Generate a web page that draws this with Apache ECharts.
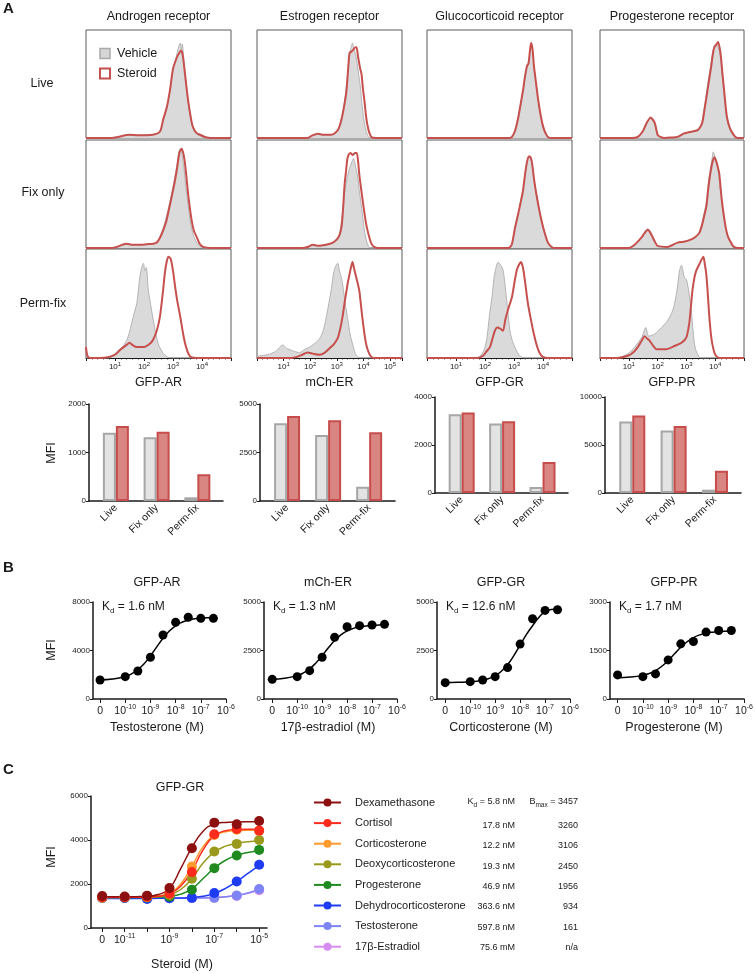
<!DOCTYPE html>
<html><head><meta charset="utf-8">
<script src="https://cdn.jsdelivr.net/npm/echarts@6/dist/echarts.min.js"></script>
<style>html,body{margin:0;padding:0;background:#fff}#c{width:755px;height:974px}</style>
</head><body><div id="c"></div>
<script>
// ================= DATA =================
// Panel A histograms: [log10 fluorescence, % of mode]
const arLiveVeh = [[0,0],[0.9,0],[1.1,1],[1.5,3],[1.8,2.5],[2.3,3],[2.55,6],[2.66,16],[2.79,28],[2.9,44],[3.0,63],[3.12,76],[3.2,85],[3.25,88],[3.29,82],[3.32,87],[3.38,70],[3.45,52],[3.52,33],[3.62,16],[3.69,9],[3.8,4],[3.93,2],[4.1,0.5],[4.3,0],[5,0]];
const arLiveSte = [[0,0],[0.9,0],[1.1,1],[1.5,3],[1.8,2.5],[2.3,3],[2.55,6],[2.66,17],[2.79,29],[2.9,45],[3.0,64],[3.14,75],[3.22,79],[3.28,81],[3.34,76],[3.41,60],[3.52,35],[3.62,18],[3.69,10],[3.8,5],[3.93,3],[4.1,1],[4.3,0],[5,0]];
const arFixVeh = [[0,0],[0.9,0],[1.06,1],[1.25,3],[1.4,4],[1.6,3],[1.86,3],[2.1,3.5],[2.32,4],[2.44,5],[2.56,11],[2.67,19],[2.78,30],[2.95,50],[3.05,64],[3.13,76],[3.2,89],[3.25,92],[3.31,86],[3.37,76],[3.43,60],[3.5,44],[3.6,24],[3.7,12],[3.8,6],[3.92,2],[4.1,0],[5,0]];
const arFixSte = [[0,0],[0.9,0],[1.06,1],[1.25,3],[1.4,4],[1.6,3],[1.86,3],[2.1,3.5],[2.32,4],[2.44,5],[2.56,10],[2.67,17],[2.78,26],[2.95,47],[3.05,60],[3.13,72],[3.22,88],[3.3,92],[3.36,87],[3.41,79],[3.47,64],[3.53,48],[3.64,26],[3.72,16],[3.82,10],[3.92,4],[4.04,1],[4.3,0],[5,0]];
const arPermVeh = [[0,0],[0.8,0],[0.95,2],[1.07,6],[1.25,10],[1.4,16],[1.5,24],[1.63,38],[1.75,50],[1.86,75],[1.93,84],[1.98,87],[2.03,80],[2.08,83],[2.15,62],[2.26,44],[2.38,26],[2.49,13],[2.6,7],[2.67,4],[2.8,1],[2.95,0],[5,0]];
const arPermSte = [[0,10],[0.05,2],[0.15,0],[0.7,0.5],[1.0,3],[1.2,8],[1.4,12],[1.5,14],[1.6,12],[1.75,10],[2.0,10],[2.2,13],[2.32,17],[2.45,26],[2.55,38],[2.65,60],[2.72,78],[2.78,88],[2.84,93],[2.92,91],[3.0,80],[3.08,64],[3.15,52],[3.25,38],[3.35,22],[3.45,10],[3.55,3],[3.65,0.5],[3.8,0],[5,0]];

const erLiveVeh = [[0,0],[1.9,0],[2.05,2],[2.28,4],[2.5,3],[2.8,3],[3.03,7],[3.12,13],[3.21,22],[3.3,36],[3.38,52],[3.45,70],[3.52,82],[3.59,88],[3.64,82],[3.7,78],[3.78,66],[3.88,48],[3.96,28],[4.05,12],[4.15,3],[4.25,0],[5.45,0]];
const erLiveSte = [[0,0],[1.9,0],[2.05,2],[2.28,4],[2.5,3],[2.8,3],[3.03,7],[3.12,12],[3.21,21],[3.3,33],[3.36,43],[3.42,62],[3.48,79],[3.55,80],[3.63,82],[3.7,84],[3.74,84],[3.8,75],[3.88,64],[3.93,59],[3.98,46],[4.04,34],[4.1,20],[4.15,12],[4.22,5],[4.3,1],[4.45,0],[5.45,0]];
const erFixVeh = [[0,0],[1.7,0],[1.9,1],[2.1,3],[2.3,2],[2.6,3],[2.85,5],[3.0,8],[3.1,13],[3.2,30],[3.29,50],[3.38,64],[3.48,74],[3.57,80],[3.63,83],[3.7,76],[3.78,67],[3.85,52],[3.96,32],[4.05,14],[4.15,4],[4.25,0],[5.45,0]];
const erFixSte = [[0,0],[1.7,0],[1.9,1],[2.1,3],[2.3,2],[2.6,3],[2.85,5],[3.0,8],[3.1,12],[3.18,20],[3.24,38],[3.29,58],[3.35,72],[3.4,83],[3.46,87],[3.52,88],[3.6,86],[3.68,88],[3.75,88],[3.8,80],[3.85,67],[3.95,48],[4.04,32],[4.12,20],[4.22,10],[4.3,4],[4.4,1],[4.55,0],[5.45,0]];
const erPermVeh = [[0,1],[0.1,2],[0.4,3],[0.7,6],[0.97,12],[1.1,9],[1.2,8],[1.4,6],[1.6,5],[1.8,8],[1.98,10],[2.2,14],[2.36,18],[2.5,26],[2.6,37],[2.7,50],[2.8,64],[2.88,78],[2.95,84],[3.03,87],[3.1,80],[3.18,73],[3.24,64],[3.29,55],[3.35,45],[3.4,37],[3.5,22],[3.6,12],[3.7,4],[3.78,1],[3.9,0],[5.45,0]];
const erPermSte = [[0,0],[1.3,0],[1.5,1],[1.7,3],[1.9,5],[2.1,4],[2.36,3],[2.55,5],[2.73,9],[2.9,13],[3.03,18],[3.12,26],[3.21,37],[3.3,52],[3.36,61],[3.42,70],[3.48,77],[3.54,84],[3.59,88],[3.65,82],[3.74,73],[3.8,67],[3.85,61],[3.9,50],[3.96,37],[4.04,22],[4.11,12],[4.2,5],[4.3,1],[4.45,0],[5.45,0]];

const grLiveVeh = [[0,0],[2.85,0],[2.93,1],[3.04,8],[3.14,19],[3.22,30],[3.31,44],[3.38,56],[3.45,66],[3.5,68],[3.55,80],[3.59,88],[3.63,84],[3.69,66],[3.76,50],[3.83,35],[3.92,20],[4.0,10],[4.08,4],[4.17,1],[4.3,0],[5,0]];
const grLiveSte = [[0,0],[2.85,0],[2.93,1],[3.04,7],[3.14,18],[3.22,30],[3.31,44],[3.38,57],[3.45,67],[3.5,69],[3.55,81],[3.59,88],[3.64,82],[3.69,66],[3.76,51],[3.83,36],[3.92,21],[4.0,11],[4.08,5],[4.17,1],[4.3,0],[5,0]];
const grFixVeh = [[0,0],[2.8,0],[2.92,3],[3.03,19],[3.14,32],[3.22,42],[3.31,54],[3.38,68],[3.45,79],[3.52,85],[3.57,82],[3.62,79],[3.7,62],[3.79,47],[3.88,34],[3.97,23],[4.07,12],[4.17,5],[4.3,0],[5,0]];
const grFixSte = [[0,0],[2.8,0],[2.92,3],[3.03,18],[3.14,31],[3.22,41],[3.31,53],[3.38,68],[3.45,80],[3.52,85],[3.57,84],[3.62,79],[3.7,62],[3.79,47],[3.88,34],[3.97,23],[4.07,13],[4.17,5],[4.3,1],[4.4,0],[5,0]];
const grPermVeh = [[0,0],[1.7,0],[1.9,4],[2.0,10],[2.07,19],[2.15,38],[2.24,56],[2.32,75],[2.38,83],[2.45,88],[2.52,86],[2.62,81],[2.7,65],[2.76,50],[2.86,25],[2.95,15],[3.03,10],[3.12,5],[3.2,2],[3.35,0],[5,0]];
const grPermSte = [[0,0],[1.75,0],[1.93,2],[2.05,6],[2.17,10],[2.26,18],[2.34,25],[2.42,28],[2.52,27],[2.62,25],[2.7,35],[2.79,44],[2.93,56],[3.02,70],[3.1,81],[3.18,86],[3.24,88],[3.3,84],[3.34,78],[3.41,64],[3.48,50],[3.57,37],[3.66,25],[3.75,15],[3.83,8],[3.92,3],[4.0,1],[4.15,0],[5,0]];

const prLiveVeh = [[0,0],[1.1,0],[1.31,1],[1.48,6],[1.62,14],[1.76,18],[1.9,13],[2.0,3],[2.1,1],[2.24,0],[2.5,0.5],[2.69,1],[2.9,4],[3.03,5],[3.2,6],[3.38,8],[3.48,11],[3.55,16],[3.65,33],[3.72,46],[3.8,60],[3.86,70],[3.92,80],[3.97,86],[4.03,87],[4.08,85],[4.15,80],[4.2,70],[4.25,56],[4.31,40],[4.36,27],[4.41,17],[4.5,8],[4.59,3],[4.7,1],[4.8,0],[5,0]];
const prLiveSte = [[0,0],[1.1,0],[1.31,1],[1.48,6],[1.62,14],[1.76,19],[1.9,14],[2.0,3],[2.1,1],[2.24,0],[2.5,0.5],[2.69,1],[2.9,4],[3.03,5],[3.2,6],[3.38,7],[3.48,10],[3.55,14],[3.65,30],[3.72,42],[3.8,56],[3.86,66],[3.92,78],[3.97,84],[4.03,86],[4.1,89],[4.15,84],[4.2,75],[4.25,60],[4.31,44],[4.36,30],[4.41,19],[4.5,10],[4.59,5],[4.7,1],[4.8,0],[5,0]];
const prFixVeh = [[0,0],[1.0,0],[1.2,3],[1.45,10],[1.58,16],[1.66,18],[1.75,15],[1.83,10],[1.92,5],[2.0,2],[2.34,1],[2.69,5],[2.95,6],[3.17,8],[3.3,10],[3.45,15],[3.55,24],[3.62,33],[3.69,42],[3.76,60],[3.83,73],[3.9,84],[3.93,89],[3.99,85],[4.05,79],[4.1,72],[4.15,62],[4.2,48],[4.26,35],[4.33,22],[4.42,12],[4.52,5],[4.62,1],[4.8,0],[5,0]];
const prFixSte = [[0,0],[1.0,0],[1.2,3],[1.45,10],[1.58,15],[1.66,17],[1.75,14],[1.83,10],[1.92,5],[2.0,2],[2.34,1],[2.69,5],[2.95,6],[3.17,8],[3.3,10],[3.45,14],[3.55,22],[3.62,30],[3.69,38],[3.76,55],[3.83,69],[3.9,79],[3.97,84],[4.04,80],[4.1,74],[4.14,69],[4.19,55],[4.24,42],[4.3,30],[4.38,17],[4.45,10],[4.55,5],[4.65,1],[4.8,0],[5,0]];
const prPermVeh = [[0,0],[0.6,0],[0.97,4],[1.2,10],[1.45,19],[1.59,28],[1.69,20],[1.9,22],[2.14,28],[2.34,34],[2.5,42],[2.59,50],[2.68,63],[2.76,80],[2.83,85],[2.88,80],[2.93,74],[3.0,72],[3.03,69],[3.1,58],[3.17,44],[3.22,28],[3.28,13],[3.33,7],[3.38,4],[3.5,0],[5,0]];
const prPermSte = [[0,0],[0.6,0],[0.97,2],[1.15,5],[1.31,10],[1.45,16],[1.55,20],[1.63,18],[1.72,16],[1.85,11],[1.97,8],[2.3,8],[2.59,11],[2.83,14],[3.0,19],[3.1,32],[3.16,48],[3.21,62],[3.28,74],[3.34,80],[3.45,86],[3.52,90],[3.59,93],[3.64,86],[3.69,77],[3.74,60],[3.79,40],[3.85,22],[3.9,13],[3.97,5],[4.03,2],[4.15,0],[5,0]];

const receptorTitles = ['Androgen receptor', 'Estrogen receptor', 'Glucocorticoid receptor', 'Progesterone receptor'];
const constructNames = ['GFP-AR', 'mCh-ER', 'GFP-GR', 'GFP-PR'];
const conditionNames = ['Live', 'Fix only', 'Perm-fix'];

// Panel A bar charts (MFI)
const barCategories = ['Live', 'Fix only', 'Perm-fix'];
const mfiVehAR = [1408, 1313, 76];   const mfiSteAR = [1546, 1429, 550];
const mfiVehER = [4005, 3402, 737];  const mfiSteER = [4381, 4160, 3541];
const mfiVehGR = [3281, 2895, 248];  const mfiSteGR = [3350, 2990, 1295];
const mfiVehPR = [7446, 6515, 345];  const mfiStePR = [8066, 6990, 2306];
const barMax = [2000, 5000, 4000, 10000];
const barInterval = [1000, 2500, 2000, 5000];

// Panel B: log10 dose (0 plotted at -11)
const doseB = [-11, -10, -9.5, -9, -8.5, -8, -7.5, -7, -6.5];
const mfiAR = [1567, 1840, 2310, 3440, 5280, 6325, 6740, 6655, 6655];
const mfiER = [1015, 1150, 1460, 2150, 3180, 3727, 3780, 3815, 3850];
const mfiGR = [843, 895, 982, 1153, 1619, 2829, 4137, 4566, 4602];
const mfiPR = [745, 692, 776, 1210, 1706, 1778, 2069, 2119, 2119];
const fitDoseB = [-11, -10.5, -10, -9.75, -9.5, -9.25, -9, -8.75, -8.5, -8.25, -8, -7.75, -7.5, -7.25, -7, -6.75, -6.5];
const fitAR = [1583, 1652, 1859, 2075, 2415, 2911, 3562, 4300, 5014, 5606, 6040, 6325, 6502, 6610, 6669, 6705, 6724];
const fitER = [1022, 1068, 1204, 1343, 1558, 1860, 2237, 2641, 3011, 3303, 3507, 3639, 3719, 3765, 3794, 3810, 3818];
const fitGR = [851, 860, 888, 910, 968, 1055, 1200, 1432, 1775, 2235, 2775, 3315, 3775, 4200, 4500, 4610, 4640];
const fitPR = [659, 677, 731, 788, 879, 1013, 1191, 1397, 1600, 1771, 1898, 1983, 2036, 2068, 2086, 2097, 2102];
const ligandNamesB = ['Testosterone (M)', '17β-estradiol (M)', 'Corticosterone (M)', 'Progesterone (M)'];
const kdB = ['1.6', '1.3', '12.6', '1.7'];
const yMaxB = [8000, 5000, 5000, 3000];
const yIntB = [4000, 2500, 2500, 1500];

// Panel C: log10 dose (0 plotted at -12)
const doseC = [-12, -11, -10, -9, -8, -7, -6, -5];
const steroidNames = ['Dexamethasone', 'Cortisol', 'Corticosterone', 'Deoxycorticosterone', 'Progesterone', 'Dehydrocorticosterone', 'Testosterone', '17β-Estradiol'];
const kdC = ['5.8 nM', '17.8 nM', '12.2 nM', '19.3 nM', '46.9 nM', '363.6 nM', '597.8 nM', '75.6 mM'];
const bmaxC = ['3457', '3260', '3106', '2450', '1956', '934', '161', 'n/a'];
const ptsDex = [1450, 1430, 1470, 1814, 3628, 4789, 4716, 4866];
const ptsCortisol = [1400, 1400, 1420, 1556, 2540, 4263, 4503, 4427];
const ptsCorticosterone = [1380, 1400, 1410, 1560, 2794, 4230, 4470, 4420];
const ptsDeoxy = [1390, 1400, 1400, 1500, 2236, 3475, 3823, 4004];
const ptsProg = [1380, 1390, 1390, 1420, 1737, 2721, 3293, 3551];
const ptsDehydro = [1360, 1360, 1315, 1350, 1370, 1587, 2113, 2871];
const ptsTesto = [1360, 1360, 1340, 1350, 1360, 1370, 1479, 1769];
const ptsEstradiol = [1360, 1360, 1340, 1350, 1360, 1380, 1460, 1720];
const fitDoseC = [-12, -11.5, -11, -10.5, -10, -9.5, -9, -8.5, -8, -7.5, -7, -6.5, -6, -5.5, -5];
const fitDex = [1420, 1420, 1420, 1425, 1440, 1520, 1800, 2700, 3650, 4400, 4720, 4800, 4820, 4828, 4830];
const fitCortisol = [1400, 1400, 1400, 1402, 1408, 1440, 1560, 1900, 2600, 3550, 4200, 4420, 4480, 4490, 4490];
const fitCorticosterone = [1390, 1390, 1392, 1396, 1405, 1450, 1600, 2000, 2800, 3700, 4200, 4380, 4430, 4440, 4440];
const fitDeoxy = [1400, 1400, 1400, 1402, 1406, 1430, 1510, 1750, 2250, 2950, 3450, 3720, 3850, 3920, 3960];
const fitProg = [1385, 1385, 1386, 1388, 1392, 1405, 1440, 1540, 1780, 2250, 2720, 3080, 3300, 3430, 3510];
const fitDehydro = [1345, 1345, 1345, 1345, 1345, 1347, 1352, 1362, 1385, 1440, 1570, 1800, 2120, 2480, 2850];
const fitTesto = [1350, 1350, 1350, 1350, 1350, 1351, 1352, 1355, 1360, 1368, 1385, 1420, 1480, 1590, 1760];
const fitEstradiol = [1350, 1350, 1350, 1350, 1350, 1351, 1352, 1355, 1360, 1370, 1390, 1425, 1475, 1580, 1730];

// ================= LAYOUT / STYLE =================
const FONT = '"Liberation Sans", Arial, Helvetica, sans-serif';
const TXT = '#1a1a1a';
const AX = '#1a1a1a';
const steroidColors = ['#8c1010', '#ff2b1c', '#ff9a2e', '#999a1c', '#1f8a1f', '#1f3cf5', '#7f84f5', '#d68cf0'];

const grid = [], xAxis = [], yAxis = [], series = [], elements = [];
const plainNum = function (v) { return String(v); };

function supRich(base, sup, lh) {
  return {
    b: { fontSize: base, fontFamily: FONT, color: TXT, lineHeight: lh },
    s: { fontSize: sup, fontFamily: FONT, color: TXT, lineHeight: Math.round(lh * 0.55), verticalAlign: 'top' }
  };
}
function txt(x, y, text, size, o) {
  o = o || {};
  return { type: 'text', x: x, y: y, rotation: o.rot || 0, silent: true, z: 100,
    style: { text: text, fill: TXT, fontSize: size, fontFamily: FONT, fontWeight: o.bold ? 'bold' : 'normal',
      align: o.align || 'center', verticalAlign: 'middle', rich: o.rich } };
}
function addGrid(g) { g.outerBoundsMode = 'none'; g.containLabel = false; grid.push(g); return grid.length - 1; }

// ---------- Panel A histograms ----------
const histCols = [
  { left: 86, width: 145, xmax: 5, labelMax: 4 },
  { left: 257, width: 145, xmax: 5.45, labelMax: 5 },
  { left: 427, width: 145, xmax: 5, labelMax: 4 },
  { left: 600, width: 144, xmax: 5, labelMax: 4 }
];
const histRows = [{ top: 30, height: 108 }, { top: 140, height: 108 }, { top: 249, height: 109 }];
const histSets = [
  [[arLiveVeh, arLiveSte], [arFixVeh, arFixSte], [arPermVeh, arPermSte]],
  [[erLiveVeh, erLiveSte], [erFixVeh, erFixSte], [erPermVeh, erPermSte]],
  [[grLiveVeh, grLiveSte], [grFixVeh, grFixSte], [grPermVeh, grPermSte]],
  [[prLiveVeh, prLiveSte], [prFixVeh, prFixSte], [prPermVeh, prPermSte]]
];
histCols.forEach(function (col, c) {
  histRows.forEach(function (row, r) {
    const gi = addGrid({ left: col.left, top: row.top, width: col.width, height: row.height, show: true,
      borderColor: '#5a5a5a', borderWidth: 1, backgroundColor: 'transparent' });
    const bottom = r === 2;
    xAxis.push({ type: 'value', gridIndex: gi, min: 0, max: col.xmax, interval: 1,
      axisLine: { show: bottom, lineStyle: { color: AX, width: 1 } },
      axisTick: { show: bottom, length: 3, lineStyle: { color: AX, width: 1 } },
      minorTick: { show: bottom, splitNumber: 5, length: 1.5, lineStyle: { color: AX, width: 0.8 } },
      splitLine: { show: false }, minorSplitLine: { show: false },
      axisLabel: { show: bottom, margin: 3, showMinLabel: true,
        formatter: function (v) { return (Math.abs(v - Math.round(v)) < 1e-6 && v >= 1 && v <= col.labelMax) ? '{b|10}{s|' + Math.round(v) + '}' : ''; },
        rich: supRich(8, 6, 12) } });
    yAxis.push({ type: 'value', gridIndex: gi, min: 0, max: 100, show: false });
    const ai = xAxis.length - 1;
    series.push({ type: 'line', name: 'Vehicle', xAxisIndex: ai, yAxisIndex: ai, data: histSets[c][r][0],
      symbol: 'none', smooth: 0.25, silent: true, z: 2,
      lineStyle: { color: '#b3b3b3', width: 1 }, areaStyle: { color: '#dadada', opacity: 1 } });
    series.push({ type: 'line', name: 'Steroid', xAxisIndex: ai, yAxisIndex: ai, data: histSets[c][r][1],
      symbol: 'none', smooth: 0.25, silent: true, z: 3,
      lineStyle: { color: '#c6504d', width: 2 } });
  });
  elements.push(txt(col.left + col.width / 2, 17, receptorTitles[c], 12.5));
  elements.push(txt(col.left + col.width / 2, 383, constructNames[c], 12.5));
});
elements.push(txt(42, 84, conditionNames[0], 12.5));
elements.push(txt(43, 193, conditionNames[1], 12.5));
elements.push(txt(43, 304, conditionNames[2], 12.5));
elements.push(txt(3, 9, 'A', 15, { bold: true, align: 'left' }));
elements.push(txt(3, 568, 'B', 15, { bold: true, align: 'left' }));
elements.push(txt(3, 770, 'C', 15, { bold: true, align: 'left' }));

// ---------- Panel A bar charts ----------
const barLayout = [
  { left: 89, top: 404, width: 134, height: 97 },
  { left: 260, top: 404, width: 135, height: 97 },
  { left: 435, top: 397, width: 133, height: 96 },
  { left: 605, top: 397, width: 136, height: 96 }
];
const barSets = [[mfiVehAR, mfiSteAR], [mfiVehER, mfiSteER], [mfiVehGR, mfiSteGR], [mfiVehPR, mfiStePR]];
barLayout.forEach(function (L, c) {
  const gi = addGrid({ left: L.left, top: L.top, width: L.width, height: L.height });
  xAxis.push({ type: 'value', gridIndex: gi, min: 0.34, max: 3.63,
    axisLine: { show: true, lineStyle: { color: AX, width: 1.5 } }, axisTick: { show: false },
    splitLine: { show: false },
    axisLabel: { customValues: [1, 2, 3], rotate: 45, fontSize: 10.5, fontFamily: FONT, color: TXT, margin: 5,
      formatter: function (v) { const i = Math.round(v); return Math.abs(v - i) < 1e-6 && i >= 1 && i <= 3 ? barCategories[i - 1] : ''; } } });
  yAxis.push({ type: 'value', gridIndex: gi, min: 0, max: barMax[c], interval: barInterval[c],
    axisLine: { show: true, lineStyle: { color: AX, width: 1.5 } },
    axisTick: { show: true, length: 3, lineStyle: { color: AX, width: 1 } },
    axisLabel: { fontSize: 8, fontFamily: FONT, color: TXT, margin: 3, formatter: plainNum }, splitLine: { show: false } });
  const ai = xAxis.length - 1;
  series.push({ type: 'bar', name: 'Vehicle MFI', xAxisIndex: ai, yAxisIndex: ai, barWidth: 13, barGap: '0%',
    data: barSets[c][0].map(function (v, i) { return [i + 1, v]; }), silent: true,
    itemStyle: { color: '#e3e3e3', borderColor: '#a6a6a6', borderWidth: 2 } });
  series.push({ type: 'bar', name: 'Steroid MFI', xAxisIndex: ai, yAxisIndex: ai, barWidth: 13, barGap: '0%',
    data: barSets[c][1].map(function (v, i) { return [i + 1, v]; }), silent: true,
    itemStyle: { color: '#d98683', borderColor: '#c64d4b', borderWidth: 2 } });
});
elements.push(txt(52, 453, 'MFI', 12.5, { rot: Math.PI / 2 }));

// ---------- Panel B ----------
const bLayout = [
  { left: 93, top: 602, width: 133, height: 97, min: -11.28, max: -6 },
  { left: 264, top: 602, width: 133, height: 97, min: -11.33, max: -6 },
  { left: 437, top: 602, width: 133, height: 97, min: -11.33, max: -6 },
  { left: 610, top: 602, width: 134, height: 97, min: -11.3, max: -6 }
];
const bPts = [mfiAR, mfiER, mfiGR, mfiPR];
const bFit = [fitAR, fitER, fitGR, fitPR];
const bTicks = [-11, -10, -9, -8, -7, -6];
bLayout.forEach(function (L, c) {
  const gi = addGrid({ left: L.left, top: L.top, width: L.width, height: L.height });
  xAxis.push({ type: 'value', gridIndex: gi, min: L.min, max: L.max,
    axisLine: { show: true, lineStyle: { color: AX, width: 1.5 } },
    axisTick: { show: true, customValues: bTicks, length: 4, lineStyle: { color: AX, width: 1 } },
    splitLine: { show: false },
    axisLabel: { customValues: bTicks, margin: 5, showMinLabel: true, showMaxLabel: true,
      formatter: function (v) { return v === -11 ? '{b|0}' : '{b|10}{s|' + v + '}'; },
      rich: supRich(10.5, 7, 14) } });
  yAxis.push({ type: 'value', gridIndex: gi, min: 0, max: yMaxB[c], interval: yIntB[c],
    axisLine: { show: true, lineStyle: { color: AX, width: 1.5 } },
    axisTick: { show: true, length: 3, lineStyle: { color: AX, width: 1 } },
    axisLabel: { fontSize: 8, fontFamily: FONT, color: TXT, margin: 3, formatter: plainNum }, splitLine: { show: false } });
  const ai = xAxis.length - 1;
  series.push({ type: 'line', name: constructNames[c] + ' fit', xAxisIndex: ai, yAxisIndex: ai,
    data: fitDoseB.map(function (x, i) { return [x, bFit[c][i]]; }), symbol: 'none', smooth: true, silent: true,
    lineStyle: { color: '#000', width: 1.5 }, z: 3 });
  series.push({ type: 'scatter', name: constructNames[c] + ' data', xAxisIndex: ai, yAxisIndex: ai,
    data: doseB.map(function (x, i) { return [x, bPts[c][i]]; }), symbol: 'circle', symbolSize: 9, silent: true,
    itemStyle: { color: '#000', opacity: 1 }, z: 4 });
  elements.push(txt(L.left + 64, 583, constructNames[c], 12.5));
  elements.push(txt(L.left + 64, 728, ligandNamesB[c], 12.5));
  elements.push(txt(L.left + 9, 607, '{k|K}{d|d}{k| = ' + kdB[c] + ' nM}', 12, { align: 'left', rich: {
    k: { fontSize: 12, fontFamily: FONT, color: TXT, lineHeight: 16 },
    d: { fontSize: 8, fontFamily: FONT, color: TXT, lineHeight: 9, verticalAlign: 'bottom' } } }));
});
elements.push(txt(52, 650, 'MFI', 12.5, { rot: Math.PI / 2 }));

// ---------- Panel C ----------
const cPts = [ptsDex, ptsCortisol, ptsCorticosterone, ptsDeoxy, ptsProg, ptsDehydro, ptsTesto, ptsEstradiol];
const cFit = [fitDex, fitCortisol, fitCorticosterone, fitDeoxy, fitProg, fitDehydro, fitTesto, fitEstradiol];
const giC = addGrid({ left: 91, top: 796, width: 176, height: 132 });
xAxis.push({ type: 'value', gridIndex: giC, min: -12.5, max: -4.65,
  axisLine: { show: true, lineStyle: { color: AX, width: 1.5 } },
  axisTick: { show: true, customValues: [-12, -11, -10, -9, -8, -7, -6, -5], length: 4, lineStyle: { color: AX, width: 1 } },
  splitLine: { show: false },
  axisLabel: { customValues: [-12, -11, -9, -7, -5], margin: 5,
    formatter: function (v) { return v === -12 ? '{b|0}' : '{b|10}{s|' + v + '}'; },
    rich: supRich(10.5, 7, 14) } });
yAxis.push({ type: 'value', gridIndex: giC, min: 0, max: 6000, interval: 2000,
  axisLine: { show: true, lineStyle: { color: AX, width: 1.5 } },
  axisTick: { show: true, length: 3, lineStyle: { color: AX, width: 1 } },
  axisLabel: { fontSize: 8, fontFamily: FONT, color: TXT, margin: 3, formatter: plainNum }, splitLine: { show: false } });
const aiC = xAxis.length - 1;
for (let k = steroidNames.length - 1; k >= 0; k--) {
  series.push({ type: 'line', name: steroidNames[k], xAxisIndex: aiC, yAxisIndex: aiC,
    data: fitDoseC.map(function (x, i) { return [x, cFit[k][i]]; }),
    symbol: 'circle', symbolSize: 9, showSymbol: false, smooth: true, silent: true,
    itemStyle: { color: steroidColors[k] }, lineStyle: { color: steroidColors[k], width: 1.5 }, z: 3 });
  series.push({ type: 'scatter', name: steroidNames[k] + ' data', xAxisIndex: aiC, yAxisIndex: aiC,
    data: doseC.map(function (x, i) { return [x, cPts[k][i]]; }), symbol: 'circle', symbolSize: 10, silent: true,
    itemStyle: { color: steroidColors[k], opacity: 1 }, z: 4 });
}
elements.push(txt(180, 788, 'GFP-GR', 12.5));
elements.push(txt(182, 965, 'Steroid (M)', 12.5));
elements.push(txt(52, 857, 'MFI', 12.5, { rot: Math.PI / 2 }));

// Kd / Bmax columns next to legend
const rowY = [801.7, 825.2, 846, 866.5, 886.7, 907, 927.5, 948];
const numRich = {
  n: { fontSize: 9, fontFamily: FONT, color: TXT, lineHeight: 14 },
  u: { fontSize: 6.5, fontFamily: FONT, color: TXT, lineHeight: 8, verticalAlign: 'bottom' }
};
kdC.forEach(function (v, i) {
  const t = i === 0 ? '{n|K}{u|d}{n| = ' + v + '}' : '{n|' + v + '}';
  elements.push(txt(515, rowY[i], t, 9, { align: 'right', rich: numRich }));
});
bmaxC.forEach(function (v, i) {
  const t = i === 0 ? '{n|B}{u|max}{n| = ' + v + '}' : '{n|' + v + '}';
  elements.push(txt(578, rowY[i], t, 9, { align: 'right', rich: numRich }));
});

// ================= OPTION =================
const option = {
  animation: false,
  backgroundColor: '#fff',
  textStyle: { fontFamily: FONT },
  grid: grid, xAxis: xAxis, yAxis: yAxis, series: series,
  legend: [
    { id: 'legA', orient: 'vertical', left: 94, top: 41.5, itemWidth: 10, itemHeight: 10, itemGap: 6,
      selectedMode: false,
      data: [
        { name: 'Vehicle', icon: 'rect', itemStyle: { color: '#d6d6d6', borderColor: '#a9a9a9', borderWidth: 1.5 } },
        { name: 'Steroid', icon: 'rect', itemStyle: { color: '#ffffff', borderColor: '#c6504d', borderWidth: 2 } }
      ],
      textStyle: { fontSize: 12.5, fontFamily: FONT, color: TXT, lineHeight: 14, padding: [0, 0, 0, 2] } },
    { id: 'legC', orient: 'vertical', left: 308, top: 790.5, itemWidth: 27, itemHeight: 10, itemGap: 6.6,
      selectedMode: false, data: steroidNames,
      textStyle: { fontSize: 11, fontFamily: FONT, color: TXT, lineHeight: 14, padding: [0, 0, 0, 9] } }
  ],
  graphic: { elements: elements }
};
const chart = echarts.init(document.getElementById('c'), null, { renderer: 'canvas', width: 755, height: 974 });
chart.setOption(option);
</script>
</body></html>
